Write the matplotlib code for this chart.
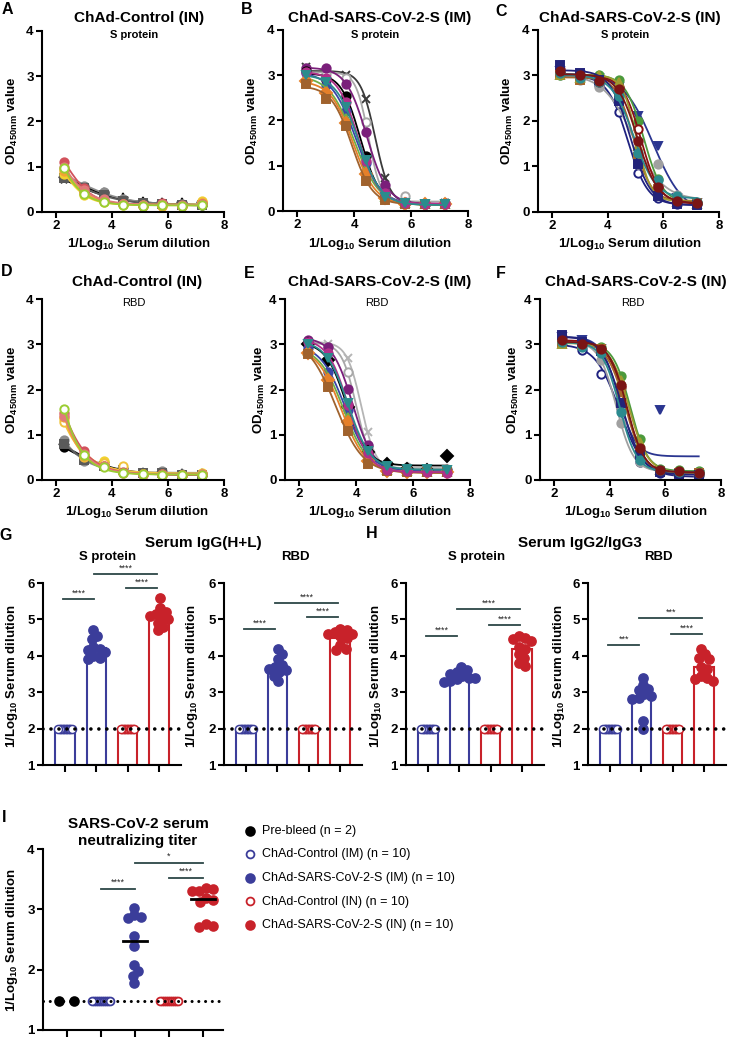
import numpy as np
import matplotlib
matplotlib.use('Agg')
import matplotlib.pyplot as plt

plt.rcParams['font.family'] = ['Liberation Sans', 'DejaVu Sans']
plt.rcParams['font.weight'] = 'bold'
plt.rcParams['mathtext.fontset'] = 'custom'
plt.rcParams['mathtext.rm'] = 'Liberation Sans:bold'
plt.rcParams['mathtext.bf'] = 'Liberation Sans:bold'
plt.rcParams['mathtext.it'] = 'Liberation Sans:bold:italic'
plt.rcParams['mathtext.default'] = 'bf'

# ---- ELISA curves (1/log10 dilution vs OD450) ----
DIL = [2.3, 3.0, 3.7, 4.4, 5.1, 5.8, 6.5, 7.2]

A_S_CTRL = [
    [0.72, 0.50, 0.40, 0.28, 0.20, 0.18, 0.17, 0.17],
    [0.78, 0.55, 0.42, 0.27, 0.19, 0.17, 0.16, 0.15],
    [0.82, 0.58, 0.45, 0.29, 0.20, 0.18, 0.17, 0.18],
    [0.75, 0.52, 0.38, 0.25, 0.20, 0.18, 0.16, 0.16],
    [0.85, 0.38, 0.22, 0.16, 0.13, 0.14, 0.13, 0.24],
    [0.95, 0.45, 0.25, 0.18, 0.15, 0.15, 0.14, 0.22],
    [0.90, 0.42, 0.24, 0.17, 0.14, 0.13, 0.13, 0.20],
    [1.10, 0.52, 0.27, 0.17, 0.14, 0.19, 0.13, 0.18],
    [1.00, 0.48, 0.28, 0.18, 0.16, 0.17, 0.15, 0.17],
    [0.98, 0.40, 0.23, 0.16, 0.14, 0.15, 0.14, 0.16],
]
B_S_IM = [
    [3.18, 3.05, 3.00, 2.48, 0.72, 0.18, 0.16, 0.17],
    [3.15, 3.02, 2.95, 1.97, 0.35, 0.33, 0.16, 0.17],
    [3.15, 3.15, 2.80, 1.75, 0.58, 0.20, 0.16, 0.17],
    [3.10, 2.90, 2.55, 1.22, 0.35, 0.18, 0.16, 0.16],
    [3.05, 2.78, 2.22, 1.05, 0.35, 0.18, 0.15, 0.17],
    [2.95, 2.70, 2.05, 0.95, 0.30, 0.17, 0.15, 0.15],
    [2.88, 2.60, 1.95, 0.82, 0.28, 0.16, 0.15, 0.15],
    [2.80, 2.48, 1.88, 0.67, 0.25, 0.16, 0.15, 0.15],
    [3.08, 2.95, 2.40, 1.10, 0.40, 0.18, 0.16, 0.16],
    [3.00, 2.85, 2.30, 1.12, 0.32, 0.17, 0.15, 0.16],
]
C_S_IN = [
    [3.05, 2.95, 2.80, 2.20, 0.85, 0.30, 0.18, 0.17],
    [3.10, 3.00, 2.95, 2.75, 2.10, 1.45, 0.30, 0.20],
    [3.00, 2.90, 2.75, 2.50, 1.05, 1.05, 0.38, 0.20],
    [3.00, 3.00, 3.00, 2.90, 2.00, 0.72, 0.30, 0.20],
    [3.15, 3.00, 2.85, 2.75, 1.82, 0.55, 0.25, 0.20],
    [3.00, 2.90, 2.90, 2.60, 1.20, 0.50, 0.25, 0.20],
    [3.00, 2.95, 3.02, 2.85, 1.45, 0.45, 0.22, 0.18],
    [3.22, 3.05, 2.90, 2.45, 1.05, 0.35, 0.18, 0.15],
    [3.05, 2.95, 2.85, 2.55, 1.30, 0.70, 0.35, 0.22],
    [3.10, 3.00, 2.88, 2.70, 1.55, 0.55, 0.25, 0.20],
]
D_RBD_CTRL = [
    [0.75, 0.50, 0.35, 0.22, 0.14, 0.14, 0.12, 0.12],
    [0.72, 0.48, 0.33, 0.20, 0.15, 0.13, 0.12, 0.11],
    [0.88, 0.42, 0.30, 0.25, 0.14, 0.20, 0.13, 0.13],
    [0.80, 0.45, 0.32, 0.22, 0.15, 0.16, 0.12, 0.12],
    [1.35, 0.55, 0.42, 0.18, 0.13, 0.12, 0.12, 0.15],
    [1.28, 0.50, 0.38, 0.32, 0.13, 0.13, 0.12, 0.14],
    [1.40, 0.52, 0.30, 0.16, 0.13, 0.12, 0.12, 0.14],
    [1.48, 0.63, 0.32, 0.17, 0.13, 0.13, 0.12, 0.12],
    [1.42, 0.58, 0.30, 0.16, 0.12, 0.12, 0.12, 0.13],
    [1.58, 0.55, 0.28, 0.15, 0.13, 0.12, 0.11, 0.12],
]
E_RBD_IM = [
    [3.05, 3.00, 2.70, 1.05, 0.30, 0.25, 0.20, 0.20],
    [3.05, 2.95, 2.38, 0.75, 0.30, 0.28, 0.25, 0.25],
    [3.10, 2.93, 2.02, 0.78, 0.25, 0.22, 0.20, 0.20],
    [3.00, 2.65, 1.62, 0.62, 0.35, 0.25, 0.22, 0.52],
    [2.92, 2.38, 1.55, 0.52, 0.25, 0.23, 0.20, 0.22],
    [2.85, 2.28, 1.40, 0.48, 0.22, 0.20, 0.18, 0.18],
    [2.80, 2.20, 1.28, 0.42, 0.20, 0.18, 0.18, 0.18],
    [2.78, 2.05, 1.08, 0.35, 0.20, 0.18, 0.18, 0.18],
    [3.05, 2.80, 1.65, 0.60, 0.22, 0.20, 0.18, 0.15],
    [3.00, 2.70, 1.70, 0.65, 0.30, 0.25, 0.25, 0.22],
]
F_RBD_IN = [
    [3.05, 2.87, 2.35, 1.60, 0.40, 0.15, 0.12, 0.12],
    [3.15, 3.10, 2.90, 1.68, 0.55, 1.55, 0.10, 0.10],
    [3.05, 3.00, 2.65, 1.25, 0.40, 0.20, 0.18, 0.15],
    [3.05, 3.00, 2.95, 2.30, 0.90, 0.25, 0.22, 0.20],
    [3.15, 3.00, 2.90, 2.05, 0.65, 0.20, 0.15, 0.15],
    [3.02, 2.98, 2.90, 1.95, 0.65, 0.20, 0.15, 0.15],
    [3.00, 3.00, 2.92, 2.20, 0.85, 0.22, 0.20, 0.18],
    [3.20, 3.05, 2.85, 1.70, 0.55, 0.18, 0.13, 0.12],
    [3.05, 2.95, 2.80, 1.50, 0.45, 0.22, 0.18, 0.15],
    [3.10, 3.00, 2.90, 2.10, 0.70, 0.22, 0.20, 0.15],
]

# (colour, marker, open)
CTRL_STYLE = [('#111111', '*', False), ('#000000', 'o', False), ('#8c8c8c', 'o', False),
              ('#5a5a5a', 's', False), ('#f2d22e', 'o', False), ('#f0c23c', 'o', True),
              ('#f2a533', 'o', False), ('#d2525c', 'o', False), ('#e07a7a', 'o', False),
              ('#9acd32', 'o', True)]
IM_STYLE = [('#3a3a3a', 'x', False), ('#a8a8a8', 'o', True), ('#7a1f7a', 'o', False),
            ('#000000', 'o', False), ('#3a45a8', 'o', False), ('#70ad47', '^', False),
            ('#e5802a', 'D', False), ('#a0622d', 's', False), ('#b0308a', 'o', False),
            ('#2a8c8c', 'v', False)]
IM_STYLE_E = [('#b5b5b5', 'x', False)] + IM_STYLE[1:3] + [('#000000', 'D', False)] + IM_STYLE[4:]
IN_STYLE = [('#1f2280', 'o', True), ('#2a3590', 'v', False), ('#a0a0a0', 'o', False),
            ('#4c9a3c', 'o', False), ('#8b1010', 'o', True), ('#a5652a', 's', False),
            ('#a09a30', '^', False), ('#23237a', 's', False), ('#2b8a8f', 'o', False),
            ('#7a1515', 'o', False)]

# ---- endpoint titers ----
CTRL_LOD = [2.0] * 10
G_S_IM = [4.70, 4.55, 4.45, 4.25, 4.20, 4.15, 4.10, 4.00, 3.95, 3.90]
G_S_IN = [5.60, 5.30, 5.20, 5.15, 5.10, 5.05, 5.00, 4.90, 4.80, 4.70]
G_RBD_IM = [4.20, 4.05, 3.90, 3.75, 3.70, 3.65, 3.60, 3.55, 3.45, 3.30]
G_RBD_IN = [4.75, 4.70, 4.65, 4.60, 4.60, 4.55, 4.50, 4.30, 4.20, 4.15]
H_S_IM = [3.68, 3.60, 3.55, 3.50, 3.45, 3.40, 3.40, 3.35, 3.30, 3.28]
H_S_IN = [4.55, 4.50, 4.45, 4.40, 4.25, 4.20, 4.05, 3.95, 3.80, 3.72]
H_RBD_IM = [3.40, 3.20, 3.10, 3.05, 2.95, 2.90, 2.85, 2.80, 2.20, 2.00]
H_RBD_IN = [4.20, 4.05, 3.95, 3.90, 3.70, 3.65, 3.45, 3.40, 3.35, 3.30]

# significance bars: (group i, group j, height, label)
G_S_SIG = [(0, 1, 5.56, '****'), (1, 3, 6.25, '****'), (2, 3, 5.86, '****')]
G_RBD_SIG = [(0, 1, 4.74, '****'), (1, 3, 5.45, '****'), (2, 3, 5.07, '****')]
H_S_SIG = [(0, 1, 4.55, '****'), (1, 3, 5.29, '****'), (2, 3, 4.85, '****')]
H_RBD_SIG = [(0, 1, 4.30, '***'), (1, 3, 5.04, '***'), (2, 3, 4.60, '****')]

# ---- neutralizing titers ----
I_PRE = [1.48, 1.48]
I_CTRL = [1.48] * 10
I_IM = [3.03, 2.90, 2.88, 2.85, 2.55, 2.40, 2.08, 1.98, 1.90, 1.78]
I_IN = [3.35, 3.33, 3.30, 3.30, 3.18, 3.15, 3.12, 2.75, 2.72, 2.70]
I_SIG = [(1, 2, 3.34, '****'), (2, 4, 3.77, '*'), (3, 4, 3.52, '****')]
I_LABELS = ['Pre-bleed (n = 2)', 'ChAd-Control (IM) (n = 10)', 'ChAd-SARS-CoV-2-S (IM) (n = 10)',
            'ChAd-Control (IN) (n = 10)', 'ChAd-SARS-CoV-2-S (IN) (n = 10)']

BLUE = '#3b3d9a'
RED = '#c8222a'
SIGC = '#2c4646'

W, H = 730, 1040
fig = plt.figure(figsize=(W / 100, H / 100), dpi=100)


def px_axes(l, t, r, b):
    return fig.add_axes([l / W, 1 - b / H, (r - l) / W, (b - t) / H])


def px_text(x, y, s, **kw):
    kw.setdefault('ha', 'center')
    kw.setdefault('va', 'center')
    fig.text(x / W, 1 - y / H, s, **kw)


def style(ax):
    for side in ('top', 'right'):
        ax.spines[side].set_visible(False)
    for side in ('left', 'bottom'):
        ax.spines[side].set_linewidth(1.5)
    ax.tick_params(width=1.5, length=4, labelsize=9.5, pad=2)


def fit4pl(x, y):
    # least squares 4-parameter logistic fit by grid search over EC50 / slope
    x = np.asarray(x, float)
    y = np.asarray(y, float)
    ec, hs = np.meshgrid(np.arange(0.5, 7.5, 0.02), np.arange(0.4, 6.0, 0.1))
    ec = ec.ravel()[:, None]
    hs = hs.ravel()[:, None]
    s = 1 / (1 + 10 ** (hs * (x[None, :] - ec)))
    sm = s.mean(1, keepdims=True)
    span = ((s - sm) * (y - y.mean())).sum(1) / ((s - sm) ** 2).sum(1)
    bot = y.mean() - span * sm[:, 0]
    res = ((bot[:, None] + span[:, None] * s - y) ** 2).sum(1)
    i = np.argmin(res)
    return bot[i], span[i], ec[i, 0], hs[i, 0]


def curve_panel(box, data, styles):
    ax = px_axes(*box)
    xs = np.linspace(DIL[0], DIL[-1], 200)
    for ys, (c, m, op) in zip(data, styles):
        bot, span, ec, h = fit4pl(DIL, ys)
        ax.plot(xs, bot + span / (1 + 10 ** (h * (xs - ec))), color=c, lw=1.3)
        ax.plot(DIL, ys, ls='none', marker=m, ms=6 if m != '*' else 8, color=c,
                mfc='white' if op else c, mew=1.4, clip_on=False)
    ax.set_xlim(1.5, 8)
    ax.set_ylim(0, 4)
    ax.set_xticks([2, 4, 6, 8])
    ax.set_yticks([0, 1, 2, 3, 4])
    style(ax)
    return ax


def swarm(ax, x0, vals, d):
    # simple beeswarm in pixel space: nearest free horizontal slot
    vals = np.asarray(vals, float)
    py = ax.transData.transform(np.column_stack([np.zeros_like(vals), vals]))[:, 1]
    off = np.zeros(len(vals))
    placed = []
    cand = [0.0]
    for k in range(1, 200):
        cand += [k * 0.5, -k * 0.5]
    for i in np.argsort(-vals, kind='stable'):
        for c in cand:
            if all((c - off[j]) ** 2 + (py[i] - py[j]) ** 2 >= d * d for j in placed):
                off[i] = c
                break
        placed.append(i)
    off -= (off.max() + off.min()) / 2
    x0px = ax.transData.transform((x0, 0))[0]
    return ax.transData.inverted().transform(np.column_stack([x0px + off, py]))[:, 0]


def sig(ax, items, dx=0.0):
    for i, j, yv, lab in items:
        ax.plot([i + dx, j + dx], [yv, yv], color=SIGC, lw=1.3, clip_on=False)
        ax.text((i + j) / 2 + dx, yv + 0.04, lab, ha='center', va='bottom',
                fontsize=6.5, fontweight='normal', color='#222222')


def dotted(ax, yv, lw=2.6):
    ax.axhline(yv, color='black', lw=lw, ls=(0, (0.01, 2.2)), dash_capstyle='round', zorder=4)


def titer_panel(box, groups, sigs):
    ax = px_axes(*box)
    ax.set_xlim(-0.7, 3.7)
    ax.set_ylim(1, 6)
    cols = [BLUE, BLUE, RED, RED]
    filled = [False, True, False, True]
    for i, vals in enumerate(groups):
        ax.bar(i, np.mean(vals) - 1, bottom=1, width=0.62, fill=False,
               edgecolor=cols[i], lw=1.5, zorder=2)
        xs = swarm(ax, i, vals, 6.5 if filled[i] else 1.3)
        ax.scatter(xs, vals, s=44 if filled[i] else 34, facecolor=cols[i] if filled[i] else 'white',
                   edgecolor=cols[i], lw=1.1, zorder=3, clip_on=False)
    dotted(ax, 2)
    ax.set_xticks(range(4))
    ax.set_xticklabels([])
    ax.set_yticks(range(1, 7))
    style(ax)
    ax.tick_params(axis='x', length=5)
    sig(ax, sigs, -0.06)
    return ax


# --- rows 1 and 2: ELISA curves ---
curve_panel((42, 31, 224, 212), A_S_CTRL, CTRL_STYLE)
curve_panel((283, 30, 468, 211), B_S_IM, IM_STYLE)
curve_panel((538, 30, 719, 212), C_S_IN, IN_STYLE)
curve_panel((42, 299, 224, 480), D_RBD_CTRL, CTRL_STYLE)
curve_panel((285, 299, 470, 480), E_RBD_IM, IM_STYLE_E)
curve_panel((540, 299, 721, 480), F_RBD_IN, IN_STYLE)

xlab = '1/Log$_{10}$ Serum dilution'
ylab = 'OD$_{450nm}$ value'
for x, ttl, ylx in [(139, 'ChAd-Control (IN)', 12), (380, 'ChAd-SARS-CoV-2-S (IM)', 252),
                    (630, 'ChAd-SARS-CoV-2-S (IN)', 507)]:
    px_text(x, 18, ttl, fontsize=11)
    px_text(x - 5, 35, 'S protein', fontsize=8)
    px_text(x, 244, xlab, fontsize=9.5)
    px_text(ylx, 121, ylab, fontsize=9.5, rotation=90)
for x, ttl, ylx in [(137, 'ChAd-Control (IN)', 12), (380, 'ChAd-SARS-CoV-2-S (IM)', 259),
                    (636, 'ChAd-SARS-CoV-2-S (IN)', 513)]:
    px_text(x, 282, ttl, fontsize=11)
    px_text(x - 3, 303, 'RBD', fontsize=8, fontweight='normal')
    px_text(x, 512, xlab, fontsize=9.5)
    px_text(ylx, 390, ylab, fontsize=9.5, rotation=90)

# --- row 3: endpoint titers ---
titer_panel((43, 583, 181, 765), [CTRL_LOD, G_S_IM, CTRL_LOD, G_S_IN], G_S_SIG)
titer_panel((224, 583, 362, 765), [CTRL_LOD, G_RBD_IM, CTRL_LOD, G_RBD_IN], G_RBD_SIG)
titer_panel((406, 583, 544, 765), [CTRL_LOD, H_S_IM, CTRL_LOD, H_S_IN], H_S_SIG)
titer_panel((588, 583, 726, 765), [CTRL_LOD, H_RBD_IM, CTRL_LOD, H_RBD_IN], H_RBD_SIG)

px_text(203, 543, 'Serum IgG(H+L)', fontsize=11)
px_text(108, 557, 'S protein', fontsize=9.5)
px_text(295, 557, 'RBD', fontsize=9.5)
px_text(580, 543, 'Serum IgG2/IgG3', fontsize=11)
px_text(477, 557, 'S protein', fontsize=9.5)
px_text(658, 557, 'RBD', fontsize=9.5)
for ylx in (12, 192, 376, 559):
    px_text(ylx, 676, xlab, fontsize=9.5, rotation=90)

# --- row 4: neutralizing titer ---
ax = px_axes(43, 849, 223, 1030)
ax.set_xlim(-0.7, 4.6)
ax.set_ylim(1, 4)
i_groups = [I_PRE, I_CTRL, I_IM, I_CTRL, I_IN]
i_cols = ['black', BLUE, BLUE, RED, RED]
i_fill = [True, False, True, False, True]
i_gap = [15, 1.8, 7, 1.8, 7]
handles = []
for k, vals in enumerate(i_groups):
    xs = swarm(ax, k, vals, i_gap[k])
    handles.append(ax.scatter(xs, vals, s=40 if i_fill[k] else 32,
                              facecolor=i_cols[k] if i_fill[k] else 'white',
                              edgecolor=i_cols[k], lw=1.3, zorder=3, clip_on=False))
    if i_fill[k] and k > 0:
        ax.plot([k - 0.35, k + 0.35], [np.median(vals)] * 2, color='black', lw=2, zorder=5)
dotted(ax, 1.48, lw=2.2)
ax.set_xticks(range(5))
ax.set_xticklabels([])
ax.set_yticks(range(1, 5))
style(ax)
ax.tick_params(axis='x', length=5)
sig(ax, I_SIG)
px_text(138, 824, 'SARS-CoV-2 serum', fontsize=11)
px_text(138, 841, 'neutralizing titer', fontsize=11)
px_text(12, 940, xlab, fontsize=9.5, rotation=90)

fig.legend(handles, I_LABELS, loc='upper left', bbox_to_anchor=(245 / W, 1 - 825 / H),
           frameon=False, handlelength=0.8, handletextpad=0.6, labelspacing=0.92,
           borderpad=0, borderaxespad=0, prop={'weight': 'normal', 'size': 9})

# panel letters
for lab, x, y in [('A', 7, 9), ('B', 247, 10), ('C', 501, 11), ('D', 7, 272), ('E', 249, 273),
                  ('F', 501, 273), ('G', 6, 535), ('H', 372, 533), ('I', 4, 817)]:
    px_text(x, y, lab, fontsize=11.5)

fig.savefig('out.png', dpi=100)
